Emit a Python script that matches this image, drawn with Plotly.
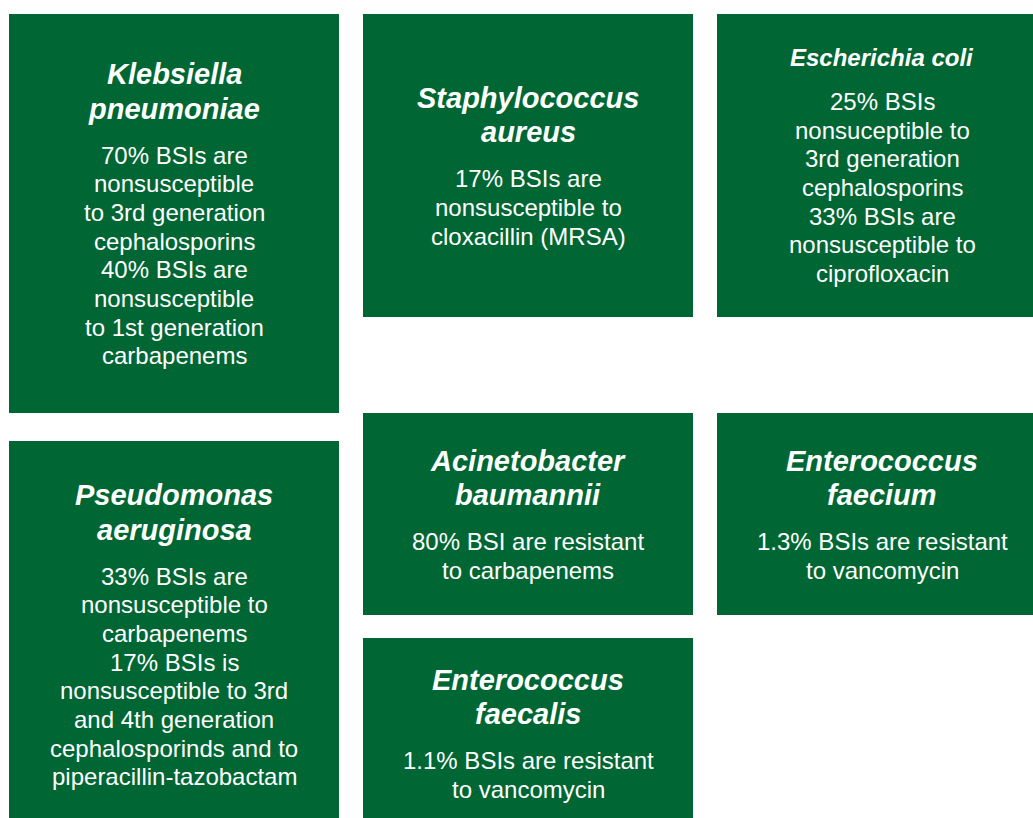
import plotly.graph_objects as go

# ---- content (text data) ----
title_lines = [
    ["Klebsiella", "pneumoniae"],
    ["Staphylococcus", "aureus"],
    ["Escherichia coli"],
    ["Pseudomonas", "aeruginosa"],
    ["Acinetobacter", "baumannii"],
    ["Enterococcus", "faecium"],
    ["Enterococcus", "faecalis"],
]
body_lines = [
    ["70% BSIs are", "nonsusceptible", "to 3rd generation", "cephalosporins",
     "40% BSIs are", "nonsusceptible", "to 1st generation", "carbapenems"],
    ["17% BSIs are", "nonsusceptible to", "cloxacillin (MRSA)"],
    ["25% BSIs", "nonsuceptible to", "3rd generation", "cephalosporins",
     "33% BSIs are", "nonsusceptible to", "ciprofloxacin"],
    ["33% BSIs are", "nonsusceptible to", "carbapenems", "17% BSIs is",
     "nonsusceptible to 3rd", "and 4th generation", "cephalosporinds and to",
     "piperacillin-tazobactam"],
    ["80% BSI are resistant", "to carbapenems"],
    ["1.3% BSIs are resistant", "to vancomycin"],
    ["1.1% BSIs are resistant", "to vancomycin"],
]

# ---- layout (box geometry in page pixels: x0, x1, y0, y1) ----
box_geom = [
    (9, 339, 14, 413),
    (363, 693, 14, 317),
    (717, 1047, 14, 317),
    (9, 339, 441, 828),
    (363, 693, 413, 615),
    (717, 1047, 413, 615),
    (363, 693, 638, 828),
]
title_size = [29, 29, 24, 29, 29, 29, 29]

GREEN = "#006633"
FONT = "Liberation Sans, Arial, sans-serif"
W, H = 1033, 818
BODY_SIZE = 24
BODY_LH = 28.7

fig = go.Figure()
shapes = []
annotations = []
for i, (x0, x1, y0, y1) in enumerate(box_geom):
    shapes.append(dict(type="rect", xref="x", yref="y", x0=x0, x1=x1, y0=y0, y1=y1,
                       fillcolor=GREEN, line=dict(width=0), layer="below"))
    ts = title_size[i]
    tlh = 34.5 if ts >= 28 else 29
    gap = 46.5 if ts >= 28 else 44
    nt = len(title_lines[i])
    nb = len(body_lines[i])
    t_off = [k * tlh for k in range(nt)]
    b_off = [(nt - 1) * tlh + gap + k * BODY_LH for k in range(nb)]
    top = -tlh / 2
    bottom = b_off[-1] + BODY_LH / 2
    mid = (top + bottom) / 2
    cy = (y0 + y1) / 2
    cx = (x0 + x1) / 2
    first = cy - mid
    for k, line in enumerate(title_lines[i]):
        annotations.append(dict(x=cx, y=first + t_off[k], xref="x", yref="y",
                                text="<b><i>" + line + "</i></b>", showarrow=False,
                                xanchor="center", yanchor="middle",
                                font=dict(family=FONT, size=ts, color="white")))
    for k, line in enumerate(body_lines[i]):
        annotations.append(dict(x=cx, y=first + b_off[k], xref="x", yref="y",
                                text=line, showarrow=False,
                                xanchor="center", yanchor="middle",
                                font=dict(family=FONT, size=BODY_SIZE, color="white")))

fig.update_layout(
    width=W, height=H,
    margin=dict(l=0, r=0, t=0, b=0),
    paper_bgcolor="white", plot_bgcolor="white",
    xaxis=dict(range=[0, W], visible=False, fixedrange=True),
    yaxis=dict(range=[H, 0], visible=False, fixedrange=True),
    shapes=shapes, annotations=annotations,
    showlegend=False,
)
fig.write_html("out.html", config={"displayModeBar": False},
               post_script="document.body.style.margin='0';document.body.style.overflow='hidden';")
